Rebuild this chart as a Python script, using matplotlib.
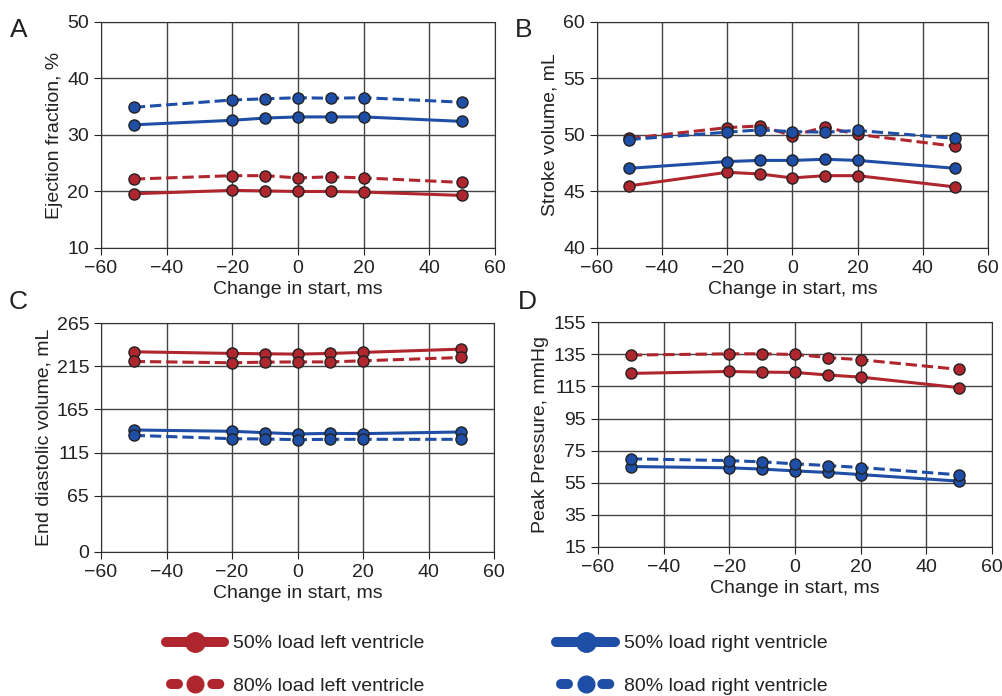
import matplotlib
matplotlib.use('Agg')
import matplotlib.pyplot as plt
from matplotlib.lines import Line2D

plt.rcParams['font.family'] = ['Liberation Sans', 'DejaVu Sans']

x = [-50, -20, -10, 0, 10, 20, 50]

# A - ejection fraction, %
ef_lv50 = [19.6, 20.2, 20.1, 20.0, 20.0, 19.9, 19.3]
ef_lv80 = [22.2, 22.8, 22.8, 22.4, 22.6, 22.4, 21.6]
ef_rv50 = [31.8, 32.6, 33.0, 33.2, 33.2, 33.2, 32.4]
ef_rv80 = [34.9, 36.2, 36.4, 36.6, 36.5, 36.6, 35.8]

# B - stroke volume, mL
sv_lv50 = [45.5, 46.7, 46.55, 46.2, 46.4, 46.4, 45.4]
sv_lv80 = [49.7, 50.65, 50.8, 49.95, 50.7, 50.05, 49.0]
sv_rv50 = [47.05, 47.65, 47.75, 47.75, 47.85, 47.75, 47.05]
sv_rv80 = [49.6, 50.25, 50.45, 50.3, 50.25, 50.4, 49.7]

# C - end diastolic volume, mL
edv_lv50 = [231.7, 229.8, 229.4, 229.0, 229.8, 231.0, 234.8]
edv_lv80 = [220.5, 219.0, 219.7, 220.0, 220.0, 221.3, 225.1]
edv_rv50 = [141.2, 139.7, 138.1, 136.6, 137.3, 137.0, 138.9]
edv_rv80 = [135.0, 131.1, 130.8, 130.0, 130.4, 130.4, 130.4]

# D - peak pressure, mmHg
pp_lv50 = [123.1, 124.3, 123.9, 123.7, 122.1, 120.8, 114.2]
pp_lv80 = [134.5, 135.3, 135.3, 134.9, 133.0, 131.6, 125.6]
pp_rv50 = [65.1, 64.3, 63.5, 62.4, 61.4, 60.1, 56.0]
pp_rv80 = [69.9, 68.8, 68.0, 66.8, 65.7, 64.5, 59.9]

labels = ['50% load left ventricle', '80% load left ventricle',
          '50% load right ventricle', '80% load right ventricle']

red = '#b0262e'
blue = '#1f4ea6'
txt = '#222222'

fig = plt.figure(figsize=(10.03, 6.96), dpi=100)

# letter, axes rect, series, y ticks, y label, letter position (px)
panels = [
    ('A', [0.1007, 0.6437, 0.393, 0.3247], (ef_lv50, ef_lv80, ef_rv50, ef_rv80),
     [10, 20, 30, 40, 50], 'Ejection fraction, %', (19, 30)),
    ('B', [0.595, 0.6437, 0.390, 0.3247], (sv_lv50, sv_lv80, sv_rv50, sv_rv80),
     [40, 45, 50, 55, 60], 'Stroke volume, mL', (524, 30)),
    ('C', [0.1007, 0.2069, 0.392, 0.329], (edv_lv50, edv_lv80, edv_rv50, edv_rv80),
     [0, 65, 115, 165, 215, 265], 'End diastolic volume, mL', (18, 302)),
    ('D', [0.5962, 0.2141, 0.3928, 0.323], (pp_lv50, pp_lv80, pp_rv50, pp_rv80),
     [15, 35, 55, 75, 95, 115, 135, 155], 'Peak Pressure, mmHg', (527, 302)),
]

styles = [(red, '-'), (red, '--'), (blue, '-'), (blue, '--')]

for letter, pos, ys, yt, ylab, lpos in panels:
    ax = fig.add_axes(pos)
    for y, (c, ls) in zip(ys, styles):
        ax.plot(x, y, color=c, ls=ls, lw=2.2, marker='o', ms=8,
                mfc=c, mec='#222222', mew=1.0, zorder=3)
    ax.set_xlim(-60, 60)
    ax.set_xticks([-60, -40, -20, 0, 20, 40, 60])
    ax.set_xticklabels(['\u221260', '\u221240', '\u221220', '0', '20', '40', '60'])
    ax.set_ylim(yt[0], yt[-1])
    ax.set_yticks(yt)
    ax.grid(True, color='#444444', lw=1.0)
    ax.set_axisbelow(True)
    for s in ax.spines.values():
        s.set_color('#333333')
    ax.tick_params(labelsize=14, colors=txt, length=5)
    ax.set_xlabel('Change in start, ms', fontsize=14, color=txt, labelpad=3)
    ax.set_ylabel(ylab, fontsize=14, color=txt, labelpad=3)
    fig.text(lpos[0] / 1003, 1 - lpos[1] / 696, letter, fontsize=19, color=txt,
             ha='center', va='center')

lw_h = 7.2
solid_kw = dict(ls='-', lw=lw_h, marker='o', ms=14, solid_capstyle='round')
dash_kw = dict(ls=(3.63, (0.7, 3.43)), lw=lw_h, marker='o', ms=12, dash_capstyle='round')
handles = [
    Line2D([], [], color=red, mec=red, **solid_kw),
    Line2D([], [], color=red, mec=red, **dash_kw),
    Line2D([], [], color=blue, mec=blue, **solid_kw),
    Line2D([], [], color=blue, mec=blue, **dash_kw),
]
fig.legend(handles, labels, loc='lower center', bbox_to_anchor=(0.495, -0.024), ncol=2,
           frameon=False, fontsize=14, handlelength=3.0, columnspacing=6.8,
           labelspacing=1.3, handletextpad=0.45, labelcolor=txt)

fig.savefig('out.png', dpi=100)
